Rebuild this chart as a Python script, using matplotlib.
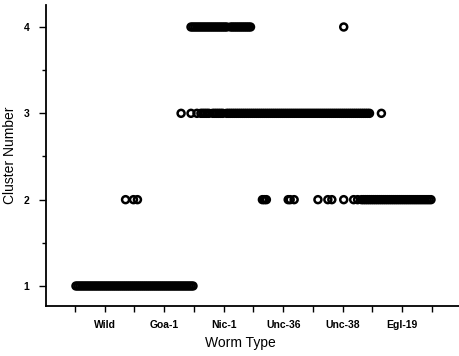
import numpy as np
import matplotlib
matplotlib.use("Agg")
import matplotlib.pyplot as plt

plt.rcParams['font.family'] = ['Liberation Sans', 'DejaVu Sans']

# worm types along the x axis
worm_types = ['Wild', 'Goa-1', 'Nic-1', 'Unc-36', 'Unc-38', 'Egl-19']

# point occupancy: for each cluster, one string per worm type,
# each character is one sample slot ('o' = a point in that cluster, '.' = none)
cluster_1 = ['oooooooooooooooooooooooooooooo',
             'oooooooooooooooooooooooooooooo',
             '..............................',
             '..............................',
             '..............................',
             '..............................']
cluster_2 = ['.........................o...o',
             '.o............................',
             '..............................',
             '....ooo..........oo.o.........',
             '..o....o.o.....o....o.o.oooooo',
             'oooooooooooooooooooooooooooooo']
cluster_3 = ['..............................',
             '.......................o....o.',
             '.o.ooooo.oooooo.oooooooooooooo',
             'oooooooooooooooooooooooooooooo',
             'ooooooooooooooooooooooooooooo.',
             '....o.........................']
cluster_4 = ['..............................',
             '............................oo',
             'ooooooooooooooooo.ooooooooooo.',
             '..............................',
             '...............o..............',
             '..............................']
clusters = {1: cluster_1, 2: cluster_2, 3: cluster_3, 4: cluster_4}

fig = plt.figure(figsize=(4.59, 3.56), dpi=100)
ax = fig.add_axes([0.1002, 0.1404, 0.8998, 0.8456])

for cluster, rows in clusters.items():
    xs = []
    for i, row in enumerate(rows):
        n = len(row)
        for k, c in enumerate(row):
            if c == 'o':
                xs.append(i + (k + 0.5) / n)
    ax.scatter(xs, [cluster] * len(xs), s=25, facecolors='none',
               edgecolors='black', linewidths=1.8, zorder=3)

ax.set_xlim(-0.487, 6.454)
ax.set_ylim(0.768, 4.255)

ax.set_xticks(np.arange(len(worm_types)) + 0.5)
ax.set_xticklabels(worm_types, fontsize=7.5, fontweight='bold')
ax.set_xticks(np.arange(len(worm_types) + 1), minor=True)
ax.set_yticks([1, 2, 3, 4])
ax.set_yticklabels(['1', '2', '3', '4'], fontsize=7.5, fontweight='bold')
ax.set_yticks([1.5, 2.5, 3.5], minor=True)
ax.tick_params(axis='x', which='both', direction='out', length=4, width=1.0, pad=6)
ax.tick_params(axis='y', which='major', direction='out', length=5, width=1.0, pad=7)
ax.tick_params(axis='y', which='minor', direction='out', length=3, width=1.0)

for side in ['top', 'right']:
    ax.spines[side].set_visible(False)
for side in ['left', 'bottom']:
    ax.spines[side].set_linewidth(1.3)

ax.set_xlabel('Worm Type', fontsize=10)
ax.set_ylabel('Cluster Number', fontsize=10)
ax.xaxis.set_label_coords(0.47, -0.10)
ax.yaxis.set_label_coords(-0.07, 0.5)

plt.savefig('out.png', dpi=100)
